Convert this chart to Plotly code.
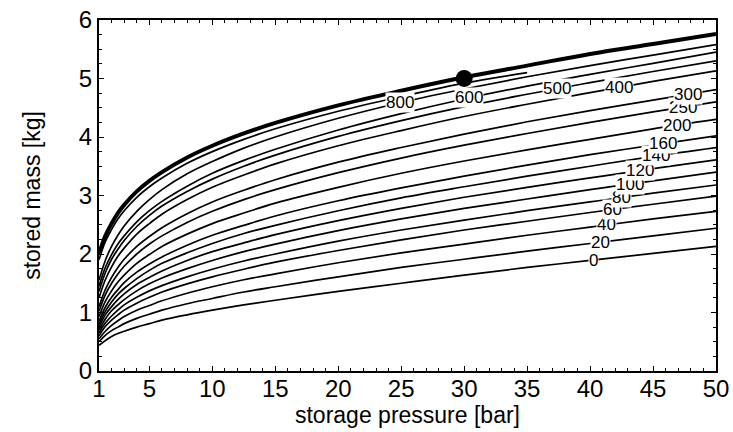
import numpy as np
import plotly.graph_objects as go

# storage pressure sample points [bar]
pressure = [1, 1.5, 2, 2.5, 3, 4, 5, 6, 8, 10, 12.5, 15, 20, 25, 30, 35, 40, 45, 50]

# stored mass [kg] for each curve parameter
curve_labels = ["0", "20", "40", "60", "80", "100", "120", "140", "160",
                "200", "250", "300", "400", "500", "600", "800"]
mass_0 = [0.44, 0.52, 0.59, 0.64, 0.68, 0.75, 0.81, 0.87, 0.96, 1.04, 1.13, 1.21, 1.36, 1.50, 1.64, 1.77, 1.89, 2.01, 2.13]
mass_20 = [0.50, 0.61, 0.69, 0.75, 0.81, 0.90, 0.97, 1.04, 1.15, 1.24, 1.35, 1.44, 1.61, 1.77, 1.91, 2.05, 2.18, 2.31, 2.44]
mass_40 = [0.55, 0.68, 0.78, 0.86, 0.93, 1.04, 1.12, 1.20, 1.33, 1.44, 1.56, 1.66, 1.85, 2.02, 2.17, 2.32, 2.46, 2.60, 2.73]
mass_60 = [0.60, 0.76, 0.87, 0.96, 1.04, 1.16, 1.26, 1.35, 1.49, 1.61, 1.74, 1.86, 2.06, 2.24, 2.41, 2.56, 2.71, 2.85, 2.99]
mass_80 = [0.65, 0.82, 0.94, 1.04, 1.13, 1.26, 1.37, 1.46, 1.61, 1.74, 1.88, 2.00, 2.22, 2.41, 2.58, 2.74, 2.89, 3.04, 3.18]
mass_100 = [0.70, 0.89, 1.03, 1.13, 1.22, 1.37, 1.49, 1.59, 1.75, 1.89, 2.04, 2.17, 2.40, 2.60, 2.78, 2.94, 3.10, 3.25, 3.40]
mass_120 = [0.75, 0.96, 1.10, 1.22, 1.32, 1.48, 1.60, 1.71, 1.89, 2.04, 2.19, 2.33, 2.57, 2.78, 2.97, 3.14, 3.30, 3.46, 3.61]
mass_140 = [0.80, 1.02, 1.18, 1.31, 1.41, 1.58, 1.72, 1.84, 2.02, 2.18, 2.35, 2.49, 2.74, 2.96, 3.15, 3.33, 3.50, 3.67, 3.82]
mass_160 = [0.85, 1.09, 1.26, 1.39, 1.51, 1.69, 1.83, 1.95, 2.15, 2.32, 2.49, 2.65, 2.91, 3.13, 3.33, 3.52, 3.70, 3.86, 4.02]
mass_200 = [0.93, 1.19, 1.37, 1.52, 1.64, 1.84, 1.99, 2.13, 2.34, 2.52, 2.70, 2.87, 3.14, 3.38, 3.59, 3.78, 3.96, 4.14, 4.30]
mass_250 = [1.02, 1.30, 1.50, 1.66, 1.79, 2.00, 2.17, 2.31, 2.54, 2.73, 2.93, 3.10, 3.39, 3.64, 3.86, 4.06, 4.25, 4.43, 4.60]
mass_300 = [1.10, 1.39, 1.60, 1.77, 1.91, 2.13, 2.30, 2.45, 2.69, 2.89, 3.09, 3.27, 3.57, 3.82, 4.05, 4.26, 4.45, 4.63, 4.81]
mass_400 = [1.25, 1.56, 1.78, 1.96, 2.10, 2.34, 2.52, 2.68, 2.93, 3.14, 3.35, 3.54, 3.85, 4.11, 4.35, 4.56, 4.76, 4.95, 5.13]
mass_500 = [1.36, 1.68, 1.91, 2.08, 2.23, 2.47, 2.66, 2.82, 3.07, 3.28, 3.50, 3.69, 4.01, 4.28, 4.52, 4.73, 4.93, 5.12, 5.30]
mass_600 = [1.45, 1.77, 1.99, 2.17, 2.31, 2.55, 2.74, 2.90, 3.16, 3.38, 3.60, 3.79, 4.12, 4.40, 4.65, 4.87, 5.07, 5.26, 5.45]
mass_800 = [1.55, 1.89, 2.13, 2.32, 2.48, 2.73, 2.93, 3.10, 3.37, 3.58, 3.81, 4.00, 4.32, 4.59, 4.82, 5.03, 5.22, 5.40, 5.58]

# short curve just below the limit curve, ending at 35 bar
pressure_short = [1, 1.5, 2, 2.5, 3, 4, 5, 6, 8, 10, 12.5, 15, 20, 25, 30, 35]
mass_short = [1.90, 2.21, 2.42, 2.60, 2.74, 2.97, 3.15, 3.30, 3.55, 3.75, 3.96, 4.14, 4.44, 4.69, 4.92, 5.10]

# limit curve (thick)
mass_limit = [2.00, 2.31, 2.52, 2.70, 2.84, 3.07, 3.25, 3.40, 3.65, 3.85, 4.06, 4.24, 4.54, 4.79, 5.02, 5.22, 5.42, 5.59, 5.76]

# design point
point_p = [30]
point_m = [5.0]

# pressure at which each curve carries its label
label_p = [40.3, 40.8, 41.3, 41.8, 42.5, 43.2, 44.0, 45.2, 45.8,
           46.9, 47.4, 47.8, 42.3, 37.4, 30.4, 24.9]

curves = [mass_0, mass_20, mass_40, mass_60, mass_80, mass_100, mass_120, mass_140,
          mass_160, mass_200, mass_250, mass_300, mass_400, mass_500, mass_600, mass_800]

FONT = "Liberation Sans"

fig = go.Figure()
for name, m in zip(curve_labels, curves):
    fig.add_trace(go.Scatter(x=pressure, y=m, mode="lines", name=name,
                             line=dict(color="black", width=1.7, shape="spline", smoothing=1.0),
                             hoverinfo="skip"))
fig.add_trace(go.Scatter(x=pressure_short, y=mass_short, mode="lines",
                         line=dict(color="black", width=1.7, shape="spline", smoothing=1.0)))
fig.add_trace(go.Scatter(x=pressure, y=mass_limit, mode="lines",
                         line=dict(color="black", width=4, shape="spline", smoothing=1.0)))
fig.add_trace(go.Scatter(x=point_p, y=point_m, mode="markers",
                         marker=dict(color="black", size=17)))

for name, m, p in zip(curve_labels, curves, label_p):
    fig.add_annotation(x=p, y=float(np.interp(p, pressure, m)), text=name, showarrow=False,
                       font=dict(family=FONT, size=17, color="black"),
                       bgcolor="white", borderpad=0)

axis_common = dict(showline=True, linecolor="black", linewidth=2, mirror="allticks",
                   ticks="inside", ticklen=5, tickwidth=1, tickcolor="black",
                   showgrid=False, zeroline=False, automargin=False,
                   tickfont=dict(family=FONT, size=24, color="black"),
                   title_font=dict(family=FONT, size=23, color="black"))

fig.update_xaxes(range=[1, 50], tickvals=[1, 5, 10, 15, 20, 25, 30, 35, 40, 45, 50],
                 minor=dict(tickvals=list(range(1, 51)), ticks="inside", ticklen=3, tickcolor="black"),
                 ticklabelstandoff=-5,
                 title_text="storage pressure [bar]", title_standoff=0, **axis_common)
fig.update_yaxes(range=[0, 6], tickvals=[0, 1, 2, 3, 4, 5, 6],
                 minor=dict(dtick=0.25, ticks="inside", ticklen=3, tickcolor="black"),
                 title_text="stored mass [kg]", title_standoff=32, **axis_common)

fig.update_layout(width=733, height=432, showlegend=False,
                  margin=dict(l=99, r=17, t=20, b=61),
                  plot_bgcolor="white", paper_bgcolor="white")

fig.write_html("out.html")
